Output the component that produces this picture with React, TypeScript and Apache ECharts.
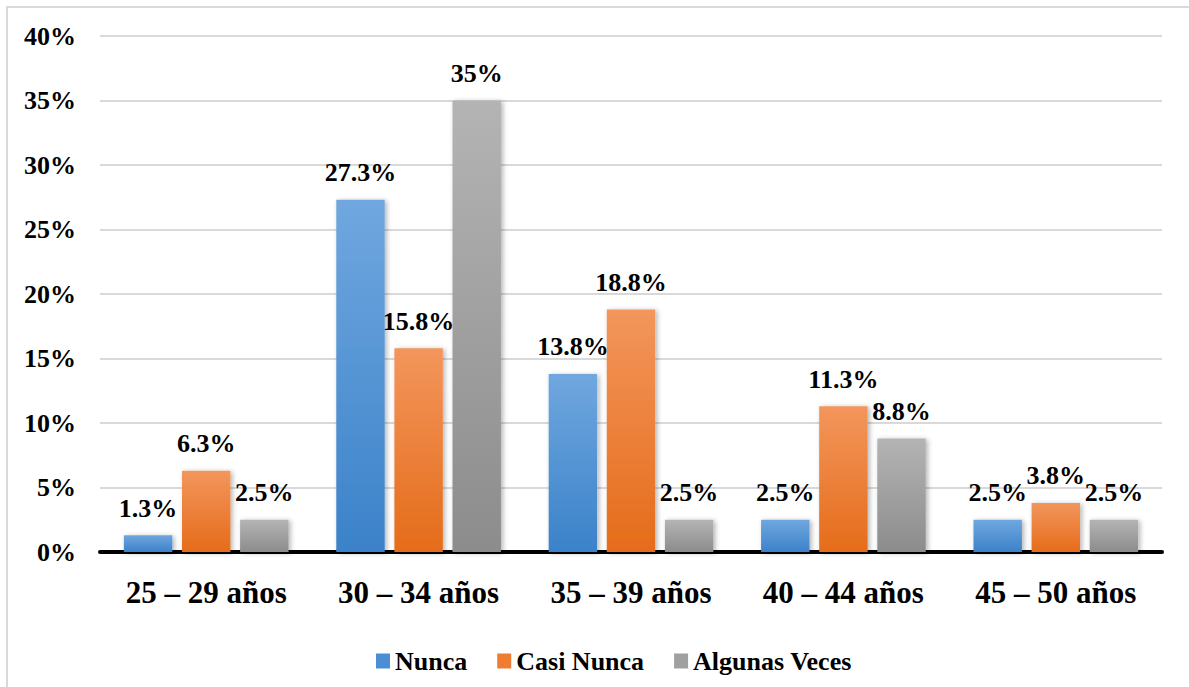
import React, { useEffect, useRef } from "react";
import * as echarts from "echarts";

const categories = ["25 – 29 años", "30 – 34 años", "35 – 39 años", "40 – 44 años", "45 – 50 años"];
const seriesNames = ["Nunca", "Casi Nunca", "Algunas Veces"];
const nunca = [1.3, 27.3, 13.8, 2.5, 2.5];
const casiNunca = [6.3, 15.8, 18.8, 11.3, 3.8];
const algunasVeces = [2.5, 35, 2.5, 8.8, 2.5];
const gradients = [
  ["#70a7df", "#3b82c9"],
  ["#f3965c", "#e56c1a"],
  ["#b4b4b4", "#8c8c8c"],
];
const legendColors = ["#4a8fd4", "#ee7d33", "#a0a0a0"];

const FONT = "Liberation Serif";

function fmt(v: number) {
  return Number.isInteger(v) ? `${v}%` : `${v.toFixed(1)}%`;
}

export default function App() {
  const ref = useRef<HTMLDivElement>(null);
  useEffect(() => {
    if (!ref.current) return;
    const chart = echarts.init(ref.current, null, { renderer: "svg" });
    const data = [nunca, casiNunca, algunasVeces];
    chart.setOption({
      animation: false,
      backgroundColor: "#ffffff",
      textStyle: { fontFamily: FONT },
      graphic: [
        {
          type: "rect",
          shape: { x: 7, y: 7, width: 1200, height: 700 },
          style: { fill: "none", stroke: "#d9d9d9", lineWidth: 2 },
          silent: true,
        },
      ],
      grid: { left: 100, right: 27, top: 36, height: 516, containLabel: false },
      legend: {
        bottom: 8,
        left: 371,
        itemWidth: 14,
        itemHeight: 15,
        itemGap: 30,
        icon: "rect",
        textStyle: { fontFamily: FONT, fontWeight: "bold", fontSize: 26, color: "#000" },
        data: seriesNames.map((n, i) => ({ name: n, itemStyle: { color: legendColors[i] } })),
        selectedMode: false,
      },
      xAxis: {
        type: "category",
        data: categories,
        axisLine: { lineStyle: { color: "#000", width: 4 } },
        axisTick: { show: false },
        axisLabel: {
          fontFamily: FONT,
          fontWeight: "bold",
          fontSize: 31,
          color: "#000",
          margin: 25,
        },
      },
      yAxis: {
        type: "value",
        min: 0,
        max: 40,
        interval: 5,
        axisLine: { show: false },
        axisTick: { show: false },
        splitLine: { lineStyle: { color: "#d9d9d9", width: 2 } },
        axisLabel: {
          fontFamily: FONT,
          fontWeight: "bold",
          fontSize: 26,
          color: "#000",
          margin: 24,
          formatter: (v: number) => `${v}%`,
        },
      },
      series: seriesNames.map((name, i) => ({
        name,
        type: "bar",
        data: data[i],
        barWidth: "22.8%",
        barGap: "20%",
        itemStyle: {
          color: new echarts.graphic.LinearGradient(0, 0, 0, 1, [
            { offset: 0, color: gradients[i][0] },
            { offset: 1, color: gradients[i][1] },
          ]),
          shadowColor: "rgba(0,0,0,0.3)",
          shadowBlur: 5,
          shadowOffsetX: 2,
          shadowOffsetY: 1,
        },
        label: {
          show: true,
          position: "top",
          distance: 14,
          fontFamily: FONT,
          fontWeight: "bold",
          fontSize: 26,
          color: "#000",
          formatter: (p: any) => fmt(p.value),
        },
      })),
    });
    return () => chart.dispose();
  }, []);
  return (
    <div
      ref={ref}
      style={{ position: "fixed", left: 0, top: 0, width: 1189, height: 687 }}
    />
  );
}
